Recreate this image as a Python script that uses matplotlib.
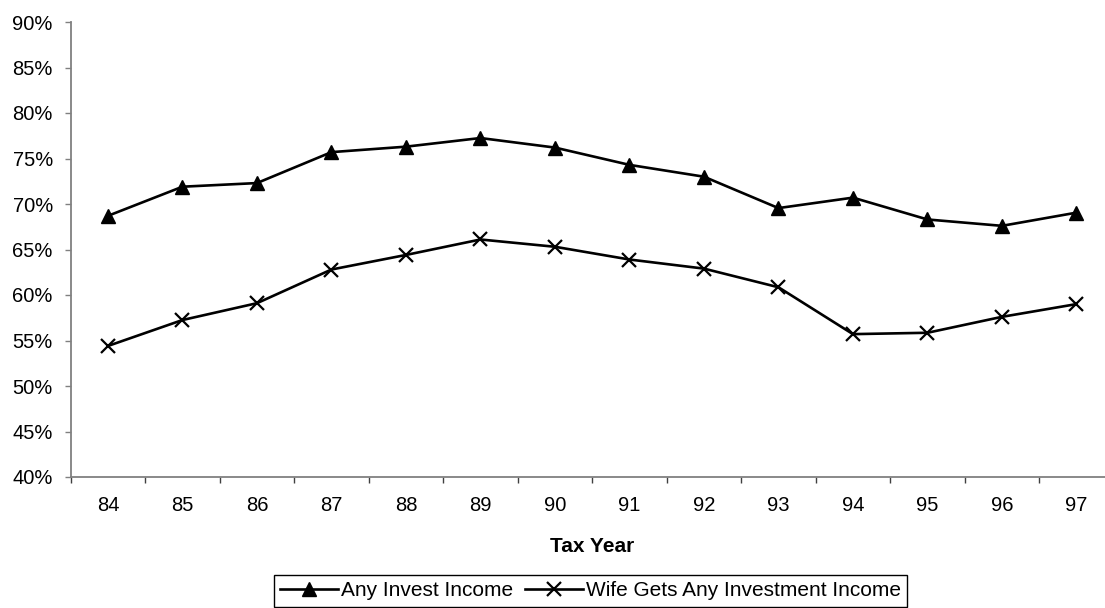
import numpy as np
import matplotlib
matplotlib.use("Agg")
import matplotlib.pyplot as plt
from matplotlib.ticker import FixedLocator

plt.rcParams['font.family'] = ['Liberation Sans', 'DejaVu Sans']

years = ["84", "85", "86", "87", "88", "89", "90", "91", "92", "93", "94", "95", "96", "97"]
any_invest = [68.7, 71.9, 72.3, 75.7, 76.3, 77.25, 76.2, 74.3, 73.0, 69.55, 70.7, 68.3, 67.6, 69.05]
wife_invest = [54.4, 57.25, 59.1, 62.8, 64.4, 66.1, 65.3, 63.9, 62.9, 60.85, 55.7, 55.85, 57.6, 59.0]
yticks = [40, 45, 50, 55, 60, 65, 70, 75, 80, 85, 90]
series_names = ["Any Invest Income", "Wife Gets Any Investment Income"]
xlabel = "Tax Year"

W, H = 1105, 608
fig = plt.figure(figsize=(W / 100, H / 100), dpi=100)
left, right, bottom, top = 70.7, 1113.7, 477, 22
ax = fig.add_axes([left / W, 1 - bottom / H, (right - left) / W, (bottom - top) / H])

x = np.arange(len(years))
l1, = ax.plot(x, any_invest, color='black', linewidth=1.9, marker='^', markersize=10.5,
              markerfacecolor='black', markeredgecolor='black', clip_on=False)
l2, = ax.plot(x, wife_invest, color='black', linewidth=1.9, marker='x', markersize=9.5,
              markeredgewidth=1.6, markeredgecolor='black', clip_on=False)

ax.set_xlim(-0.5, len(years) - 0.5)
ax.set_ylim(40, 90)
ax.set_yticks(yticks)
ax.set_yticklabels([f"{v}%" for v in yticks])
ax.set_xticks(x)
ax.set_xticklabels(years)
ax.xaxis.set_minor_locator(FixedLocator(np.arange(-0.5, len(years), 1.0)))

for s in ['top', 'right']:
    ax.spines[s].set_visible(False)
for s in ['left', 'bottom']:
    ax.spines[s].set_color('#808080')
    ax.spines[s].set_linewidth(1.3)

ax.tick_params(axis='y', which='major', direction='out', length=4.3, width=1, color='#808080',
               labelsize=14.5, pad=8.6, labelcolor='black')
ax.tick_params(axis='x', which='major', length=0, labelsize=14.5, pad=13.5, labelcolor='black')
ax.tick_params(axis='x', which='minor', direction='out', length=4, width=1, color='#404040')

fig.text(592 / W, 1 - 552.5 / H, xlabel, ha='center', va='baseline', fontsize=15, fontweight='bold')

leg = fig.legend([l1, l2], series_names, loc='upper center', bbox_to_anchor=(590.5 / W, 1 - 575 / H),
                 ncol=2, frameon=True, fancybox=False, shadow=False, fontsize=15,
                 handlelength=2.75, handletextpad=0.15, columnspacing=0.6, borderpad=0.3,
                 borderaxespad=0)
leg.get_frame().set_edgecolor('black')
leg.get_frame().set_linewidth(1.0)
leg.get_frame().set_alpha(1)

fig.savefig("out.png", dpi=100)
